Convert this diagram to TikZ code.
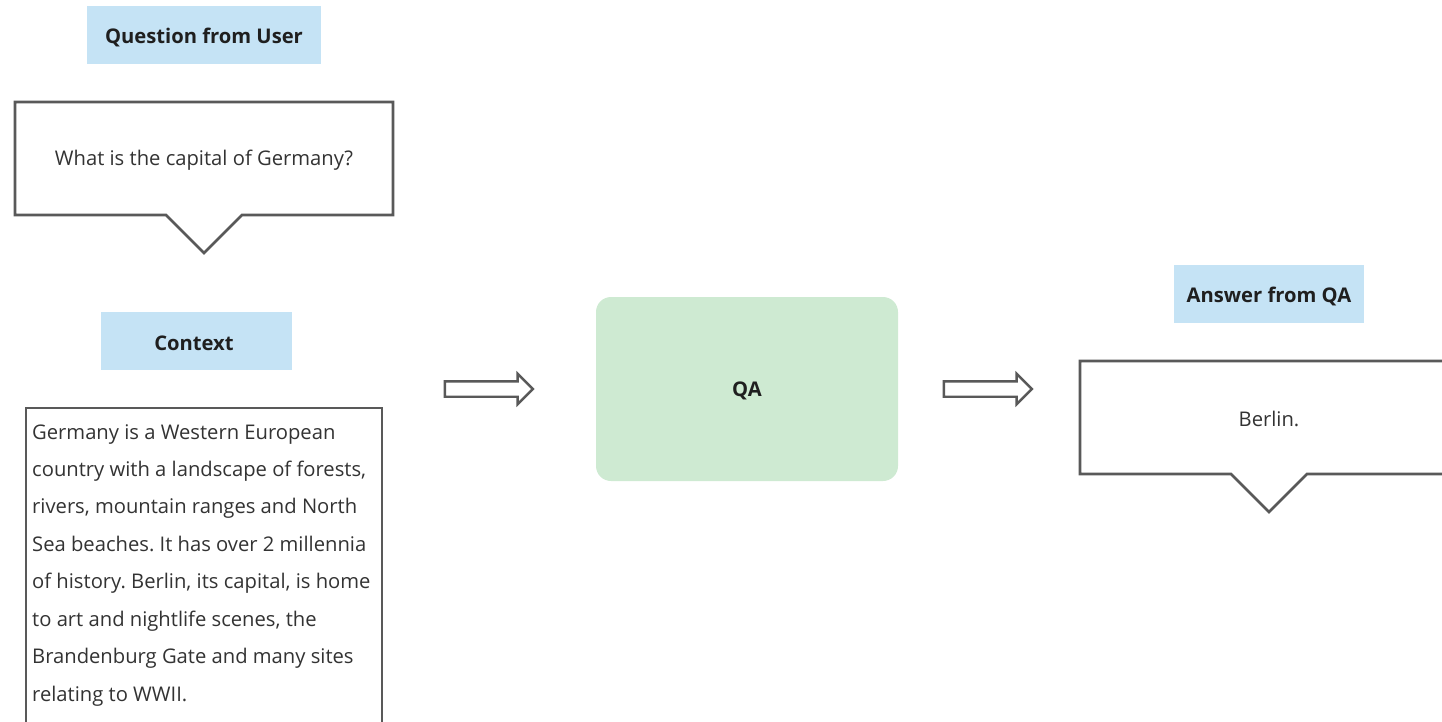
\documentclass[tikz,border=0pt]{standalone}
\usepackage{fontspec}
\setmainfont{Open Sans}
\frenchspacing
\usetikzlibrary{shapes.arrows}
\definecolor{lblblue}{HTML}{C5E3F5}
\definecolor{qagreen}{HTML}{CEEAD2}
\definecolor{edge}{HTML}{595959}
\definecolor{txt}{HTML}{333333}
\definecolor{ttl}{HTML}{1F1F1F}
\tikzset{
  lbl/.style={fill=lblblue, minimum width=#1, minimum height=58pt, inner sep=0pt},
  lbltext/.style={text=ttl, font=\fontsize{20.2}{24}\selectfont\bfseries},
  callout/.style={draw=edge, line width=2.6pt, line join=miter, fill=white},
  body/.style={text=txt, font=\fontsize{20.2}{24}\selectfont},
  blockarrow/.style={single arrow, draw=edge, fill=white, line width=2.4pt, minimum height=88pt, text height=0pt, text depth=0pt, text width=0pt, inner xsep=0pt, inner ysep=6.5pt, single arrow head extend=7.5pt, single arrow tip angle=90, shape border rotate=0},
}
\begin{document}
\begin{tikzpicture}[x=1pt,y=-1pt]
\useasboundingbox (0,0) rectangle (1442,722);
\clip (0,0) rectangle (1442,722);
% question
\node[lbl=234pt] (qlabel) at (204,35) {};
\node[lbltext] (qlabeltext) at (204,37) {Question from User};
\draw[callout] (15,102) -- (393,102) -- (393,215) -- (242,215) -- (204,253) -- (166,215) -- (15,215) -- cycle;
\node[body] (qtext) at (204,160) {What is the capital of Germany?};
% context
\node[lbl=191pt] (clabel) at (196.5,341) {};
\node[lbltext] (clabeltext) at (194,343) {Context};
\draw[draw=edge, line width=2.6pt, fill=white] (26,408) rectangle (382,740);
\node[body, anchor=north west, align=left, inner sep=0pt, font=\fontsize{20.2}{37.43}\selectfont] (ctext) at (32,424) {Germany is a Western European\\country with a landscape of forests,\\rivers, mountain ranges and North\\Sea beaches. It has over 2 millennia\\of history. Berlin, its capital, is home\\to art and nightlife scenes, the\\Brandenburg Gate and many sites\\relating to WWII.};
% arrows
\node[blockarrow] (arr1) at (485,389) {};
\node[blockarrow] (arr2) at (984,389) {};
% QA
\node[fill=qagreen, rounded corners=15pt, minimum width=302pt, minimum height=184pt, inner sep=0pt] (qa) at (747,389) {};
\node[lbltext] (qatext) at (747,391) {QA};
% answer
\node[lbl=190pt] (alabel) at (1269,294) {};
\node[lbltext] (alabeltext) at (1269,296) {Answer from QA};
\draw[callout] (1080,361) -- (1460,361) -- (1460,474) -- (1307,474) -- (1269,512) -- (1231,474) -- (1080,474) -- cycle;
\node[body] (atext) at (1269,419) {Berlin.};
\end{tikzpicture}
\end{document}
